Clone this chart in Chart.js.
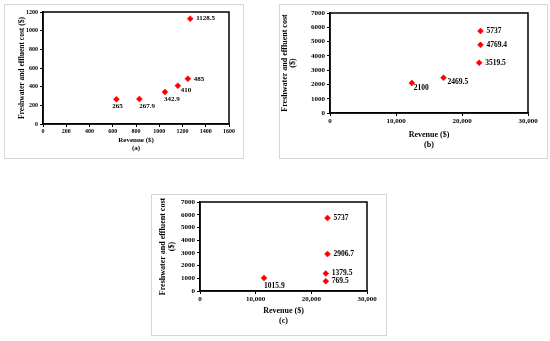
<!DOCTYPE html>
<html>
<head>
<meta charset="utf-8">
<script src="https://cdn.jsdelivr.net/npm/chart.js@4"></script>
<style>
  body { margin: 0; background: #fff; width: 550px; height: 341px; position: relative; overflow: hidden; }
  .panel { position: absolute; border: 1.5px solid #d6d6d6; box-sizing: border-box; }
  .panel canvas { position: absolute; left: 0; top: 0; }
</style>
</head>
<body>
<div class="panel" id="pA" style="left:4px;top:4px;width:240px;height:155px"><canvas id="chartA"></canvas></div>
<div class="panel" id="pB" style="left:279px;top:4px;width:269px;height:155px"><canvas id="chartB"></canvas></div>
<div class="panel" id="pC" style="left:151px;top:194px;width:236px;height:142px"><canvas id="chartC"></canvas></div>
<script>
// (a)
const revenueA = [631, 829, 1049, 1160, 1246, 1266]
const costA = [265, 267.9, 342.9, 410, 485, 1128.5]
// (b)
const revenueB = [12400, 17200, 22600, 22800, 22800]
const costB = [2100, 2469.5, 3519.5, 4769.4, 5737]
// (c)
const revenueC = [11500, 22600, 22600, 22900, 22900]
const costC = [1015.9, 769.5, 1379.5, 2906.7, 5737]

// ejes [min, max, paso]
const ejeXA = [0, 1600, 200]
const ejeYA = [0, 1200, 200]
const ejeXBC = [0, 30000, 10000]
const ejeYBC = [0, 7000, 1000]

// donde va cada etiqueta respecto del punto (dx, dy)
const offA = [[-4, 7], [0, 7], [-1, 7], [3, 4], [6, 0], [6, 0]]
const offB = [[2, 5], [4, 4], [6, 0], [6, 0], [6, 0]]
const offC = [[0, 8], [6, 0], [6, 0], [6, 0], [6, 0]]

const serif = "'Liberation Serif', 'Times New Roman', serif"

const etiquetasPuntos = {
  id: 'etiquetasPuntos',
  afterDatasetsDraw(chart, args, opts) {
    const ctx = chart.ctx
    const meta = chart.getDatasetMeta(0)
    const datos = chart.data.datasets[0].data
    ctx.save()
    ctx.fillStyle = '#000'
    ctx.font = `bold ${opts.size}px ${serif}`
    ctx.textAlign = 'left'
    ctx.textBaseline = 'middle'
    meta.data.forEach((p, i) => {
      let [dx, dy] = opts.off[i]
      ctx.fillText(String(datos[i].y), p.x + dx, p.y + dy)
    })
    ctx.restore()
  }
}

const marcoArea = {
  id: 'marcoArea',
  afterDraw(chart) {
    const {ctx, chartArea: a} = chart
    ctx.save()
    ctx.strokeStyle = '#000'
    ctx.lineWidth = 1.5
    ctx.strokeRect(a.left, a.top, a.right - a.left, a.bottom - a.top)
    ctx.restore()
  }
}

const crearGrafico = (id, w, h, xs, ys, ejeX, ejeY, cfg) => {
  const canvas = document.getElementById(id)
  canvas.width = w
  canvas.height = h
  const puntos = xs.map((x, i) => ({x: x, y: ys[i]}))
  const fTick = {family: serif, size: cfg.tick, weight: 'bold'}
  return new Chart(canvas, {
    type: 'scatter',
    data: {
      datasets: [{
        data: puntos,
        pointStyle: 'rectRot',
        pointRadius: cfg.radio,
        pointHoverRadius: cfg.radio,
        backgroundColor: '#ff0000',
        borderColor: '#ff0000',
        borderWidth: 0.5
      }]
    },
    options: {
      responsive: false,
      animation: false,
      devicePixelRatio: 1,
      layout: { padding: cfg.padding },
      plugins: {
        legend: { display: false },
        tooltip: { enabled: false },
        etiquetasPuntos: { size: cfg.etiq, off: cfg.off }
      },
      scales: {
        x: {
          type: 'linear',
          min: ejeX[0], max: ejeX[1],
          afterFit: (s) => { s.height = cfg.altoX },
          border: { color: '#000', width: 1.5 },
          grid: { drawOnChartArea: false, drawTicks: true, tickLength: 3, color: '#000' },
          ticks: {
            stepSize: ejeX[2], color: '#000', font: fTick, padding: 1, maxRotation: 0,
            callback: cfg.comas ? (v) => v.toLocaleString('en-US') : (v) => String(v)
          },
          title: {
            display: true, text: ['Revenue ($)', cfg.letra], color: '#000',
            font: {family: serif, size: cfg.titulo, weight: 'bold', lineHeight: 1.25},
            padding: {top: 0, bottom: 0}
          }
        },
        y: {
          type: 'linear',
          min: ejeY[0], max: ejeY[1],
          afterFit: (s) => { s.width = cfg.anchoY },
          border: { color: '#000', width: 1.5 },
          grid: { drawOnChartArea: false, drawTicks: true, tickLength: 3, color: '#000' },
          ticks: { stepSize: ejeY[2], color: '#000', font: fTick, padding: 2, callback: (v) => String(v) },
          title: {
            display: true, text: cfg.tituloY, color: '#000',
            font: {family: serif, size: cfg.tituloYsize, weight: 'bold', lineHeight: cfg.tituloYlh},
            padding: {top: cfg.tituloYpad, bottom: 0}
          }
        }
      }
    },
    plugins: [etiquetasPuntos, marcoArea]
  })
}

crearGrafico('chartA', 237, 152, revenueA, costA, ejeXA, ejeYA, {
  padding: {left: 0, top: 7, right: 13, bottom: 4},
  altoX: 29, anchoY: 38, tick: 6, etiq: 7, titulo: 7, radio: 3, off: offA, comas: false,
  letra: '(a)', tituloY: 'Freshwater and effluent cost ($)', tituloYsize: 7.5, tituloYlh: 1.2, tituloYpad: 13
})

crearGrafico('chartB', 266, 152, revenueB, costB, ejeXBC, ejeYBC, {
  padding: {left: 0, top: 8, right: 18, bottom: 7},
  altoX: 37, anchoY: 50, tick: 7, etiq: 7.5, titulo: 8, radio: 3, off: offB, comas: true,
  letra: '(b)', tituloY: ['Freshwater and effluent cost', '($)'], tituloYsize: 8, tituloYlh: 1, tituloYpad: 1
})

crearGrafico('chartC', 233, 139, revenueC, costC, ejeXBC, ejeYBC, {
  padding: {left: 0, top: 7, right: 18, bottom: 8},
  altoX: 35, anchoY: 48, tick: 7, etiq: 7.5, titulo: 8, radio: 3, off: offC, comas: true,
  letra: '(c)', tituloY: ['Freshwater and effluent cost', '($)'], tituloYsize: 8, tituloYlh: 1.15, tituloYpad: 6
})
</script>
</body>
</html>
